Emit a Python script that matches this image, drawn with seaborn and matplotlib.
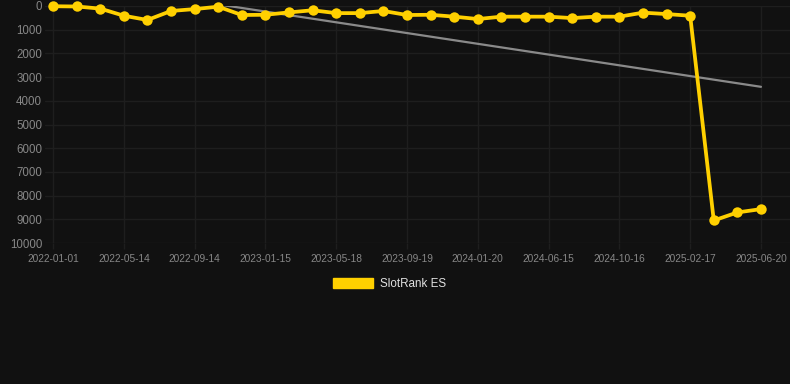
import numpy as np
import pandas as pd
import matplotlib
matplotlib.use("Agg")
import matplotlib.pyplot as plt
from matplotlib.patches import Patch
import seaborn as sns

# ---- data ----
dates = [
    "2022-01-01", "2022-02-14", "2022-03-29", "2022-05-14", "2022-06-14",
    "2022-08-14", "2022-09-14", "2022-10-26", "2022-12-05", "2023-01-15",
    "2023-02-25", "2023-04-07", "2023-05-18", "2023-06-28", "2023-08-09",
    "2023-09-19", "2023-10-30", "2023-12-10", "2024-01-20", "2024-03-08",
    "2024-04-27", "2024-06-15", "2024-07-26", "2024-09-05", "2024-10-16",
    "2024-11-26", "2025-01-06", "2025-02-17", "2025-03-30", "2025-05-10",
    "2025-06-20",
]
rank_es = [
    10, 20, 110, 410, 590, 210, 130, 30, 380, 370,
    270, 180, 300, 300, 210, 380, 370, 450, 550, 450,
    450, 450, 510, 450, 450, 280, 340, 410, 9050, 8710,
    8570,
]
series_name = "SlotRank ES"
y_ticks = [0, 1000, 2000, 3000, 4000, 5000, 6000, 7000, 8000, 9000, 10000]

BG = "#111111"
GRID = "#1e1e1e"
TICK = "#878787"
YELLOW = "#FFD000"
TREND = "#8a8a8a"

sns.set_theme(style="dark", rc={
    "figure.facecolor": BG,
    "axes.facecolor": BG,
    "savefig.facecolor": BG,
})
plt.rcParams["font.family"] = ["Liberation Sans", "DejaVu Sans"]

df = pd.DataFrame({"idx": np.arange(len(dates)), "date": dates, "rank": rank_es})

fig = plt.figure(figsize=(7.9, 3.84), dpi=100)
ax = fig.add_axes([45 / 790, 1 - 243 / 384, 1 - 45 / 790, (243 - 6) / 384])
ax.set_facecolor(BG)

# trend line (linear regression of the series)
sns.regplot(data=df, x="idx", y="rank", scatter=False, ci=None, ax=ax,
            line_kws={"color": TREND, "lw": 1.6, "zorder": 2})

sns.lineplot(data=df, x="idx", y="rank", ax=ax, color=YELLOW, lw=2.7,
             marker="o", markersize=7.5, markeredgewidth=0,
             markerfacecolor=YELLOW, zorder=3, clip_on=False, legend=False)

ax.set_ylim(10000, 0)
ax.set_xlim(-0.34, 31.23)
ax.set_yticks(y_ticks)
ax.set_yticklabels([str(v) for v in y_ticks])
tick_pos = list(range(0, len(dates), 3))
ax.set_xticks(tick_pos)
ax.set_xticklabels([dates[i] for i in tick_pos])
ax.set_xlabel("")
ax.set_ylabel("")

ax.grid(True, color=GRID, lw=1.0)
ax.set_axisbelow(True)
for s in ax.spines.values():
    s.set_visible(False)

ax.tick_params(axis="x", colors=TICK, labelsize=7.3, length=4.5, width=1.0,
               pad=3.5, bottom=True)
ax.tick_params(axis="x", color=GRID)
ax.tick_params(axis="y", colors=TICK, labelsize=8.3, length=0, pad=2)

handle = Patch(facecolor=YELLOW, edgecolor=YELLOW)
leg = fig.legend([handle], [series_name], loc="center",
                 bbox_to_anchor=(389.5 / 790, 1 - 284 / 384),
                 frameon=False, fontsize=8.4, handlelength=3.45,
                 handleheight=1.0, handletextpad=0.6, labelcolor="#e0e0e0")

fig.savefig("out.png", dpi=100, facecolor=BG)
